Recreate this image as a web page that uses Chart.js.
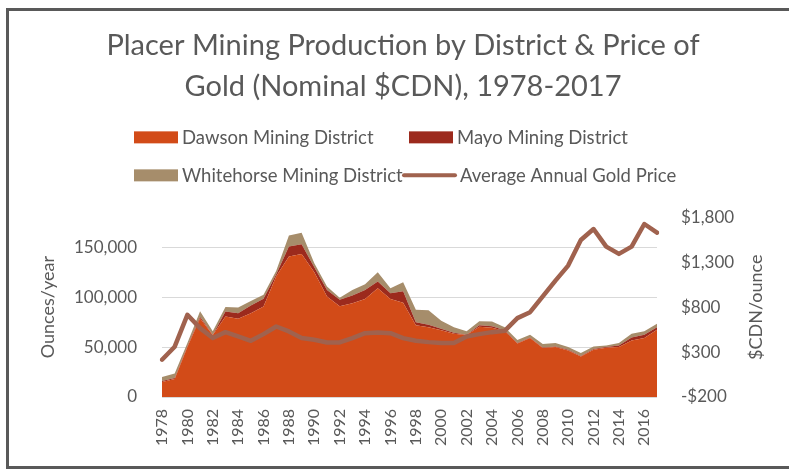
<!DOCTYPE html>
<html>
<head>
<meta charset="utf-8">
<script src="https://cdn.jsdelivr.net/npm/chart.js@4.4.0/dist/chart.umd.min.js"></script>
<style>
    body { margin: 0; background: #ffffff; overflow: hidden; }
    #moldura {
        position: absolute; left: 6px; top: 8px; width: 900px; height: 461px;
        box-sizing: border-box; border: 3px solid #595959; border-right: none;
    }
    #grafico { position: absolute; left: 0; top: 0; }
</style>
</head>
<body>
<div id="moldura"></div>
<canvas id="grafico" width="789" height="470"></canvas>
<script>
const anos = [
    "1978", "1979", "1980", "1981", "1982", "1983", "1984", "1985", "1986", "1987",
    "1988", "1989", "1990", "1991", "1992", "1993", "1994", "1995", "1996", "1997",
    "1998", "1999", "2000", "2001", "2002", "2003", "2004", "2005", "2006", "2007",
    "2008", "2009", "2010", "2011", "2012", "2013", "2014", "2015", "2016", "2017"
];

// onças por ano, por distrito
const dawson = [
    15000, 18000, 50000, 79000, 62000, 80700, 78300, 84000, 90700, 121000,
    140700, 143300, 125000, 100700, 91000, 94000, 98300, 109000, 98300, 94500,
    72000, 70000, 67000, 63500, 62000, 70500, 69500, 66200, 53500, 59000,
    49000, 50000, 46700, 40700, 47300, 49300, 50000, 56700, 59000, 67300
];
const mayo = [
    1000, 1000, 1000, 1500, 500, 5000, 5700, 7700, 7700, 2000,
    10000, 9700, 5000, 6500, 6500, 7700, 9000, 6700, 5700, 11500,
    3000, 2500, 1500, 1000, 500, 1500, 1500, 800, 500, 500,
    700, 700, 600, 500, 700, 700, 1500, 3000, 3500, 2500
];
const whitehorse = [
    4000, 4500, 3000, 5500, 3500, 4500, 5700, 4600, 4000, 3500,
    11000, 11700, 4000, 3500, 2000, 5600, 5700, 9300, 5000, 9000,
    12500, 14500, 8000, 5300, 3500, 4000, 4700, 3000, 3000, 3000,
    3300, 3300, 2700, 2800, 2700, 1700, 2500, 3600, 3500, 3500
];

// preço médio anual do ouro ($CDN/onça)
const precoOuro = [
    215, 360, 715, 567, 456, 522, 474, 426, 500, 585,
    530, 456, 437, 407, 407, 456, 511, 519, 511, 456,
    426, 411, 400, 400, 474, 500, 522, 537, 678, 744,
    920, 1096, 1263, 1548, 1670, 1474, 1393, 1474, 1726, 1630
];

// marcas dos eixos
const ticksOncas = [0, 50000, 100000, 150000];
const ticksPreco = [-200, 300, 800, 1300, 1800];

const FONTE = "Lato";
const CINZA = "#595959";

// legenda em grade 2x2 + título do eixo direito (lendo de baixo pra cima)
const legendaGrade = {
    id: "legendaGrade",
    afterDraw(chart) {
        const ctx = chart.ctx;
        const area = chart.chartArea;
        const colunas = [134, 409];
        const linhas = [area.top - 80, area.top - 42];

        ctx.save();
        ctx.font = `18.5px ${FONTE}`;
        ctx.textBaseline = "middle";

        for (let i = 0; i < chart.data.datasets.length; i++) {
            const ds = chart.data.datasets[i];
            const x = colunas[i % 2];
            const y = linhas[Math.floor(i / 2)];
            let xTexto;

            if (!ds.fill) {
                ctx.strokeStyle = ds.borderColor;
                ctx.lineWidth = 4;
                ctx.lineCap = "round";
                ctx.beginPath();
                ctx.moveTo(x - 5, y);
                ctx.lineTo(x + 46, y);
                ctx.stroke();
                xTexto = x + 51;
            } else {
                ctx.fillStyle = ds.backgroundColor;
                ctx.fillRect(x, y - 6, 44, 12);
                xTexto = x + 48;
            }
            ctx.fillStyle = CINZA;
            ctx.textAlign = "left";
            ctx.fillText(ds.label, xTexto, y + 1);
        }

        ctx.translate(756, (area.top + area.bottom) / 2);
        ctx.rotate(-Math.PI / 2);
        ctx.textAlign = "center";
        ctx.font = `18px ${FONTE}`;
        ctx.fillText("$CDN/ounce", 0, 0);
        ctx.restore();
    }
};

const ctx = document.getElementById("grafico");

new Chart(ctx, {
    type: "line",
    data: {
        labels: anos,
        datasets: [
            {
                label: "Dawson Mining District",
                data: dawson,
                yAxisID: "y",
                fill: "origin",
                backgroundColor: "#D24B18",
                borderColor: "#D24B18",
                borderWidth: 0,
                pointRadius: 0,
                order: 1
            },
            {
                label: "Mayo Mining District",
                data: mayo,
                yAxisID: "y",
                fill: "-1",
                backgroundColor: "#9C2A1D",
                borderColor: "#9C2A1D",
                borderWidth: 0,
                pointRadius: 0,
                order: 1
            },
            {
                label: "Whitehorse Mining District",
                data: whitehorse,
                yAxisID: "y",
                fill: "-1",
                backgroundColor: "#A68D6B",
                borderColor: "#A68D6B",
                borderWidth: 0,
                pointRadius: 0,
                order: 1
            },
            {
                label: "Average Annual Gold Price",
                data: precoOuro,
                yAxisID: "y1",
                fill: false,
                borderColor: "#A0624E",
                backgroundColor: "#A0624E",
                borderWidth: 4.5,
                borderJoinStyle: "round",
                borderCapStyle: "round",
                pointRadius: 0,
                tension: 0,
                order: 0
            }
        ]
    },
    plugins: [legendaGrade],
    options: {
        responsive: false,
        animation: false,
        layout: { padding: { left: 17, right: 0, top: 0, bottom: 0 } },
        plugins: {
            legend: { display: false },
            tooltip: { enabled: false },
            title: {
                display: true,
                text: [
                    "Placer Mining Production by District & Price of",
                    "Gold (Nominal $CDN), 1978-2017"
                ],
                color: CINZA,
                font: { family: FONTE, size: 29, weight: "normal", lineHeight: 1.42 },
                padding: { top: 25, bottom: 110 }
            }
        },
        scales: {
            x: {
                grid: { display: false },
                border: { display: false },
                ticks: {
                    autoSkip: false,
                    minRotation: 90,
                    maxRotation: 90,
                    padding: 4,
                    color: CINZA,
                    font: { family: FONTE, size: 16 },
                    callback: function (valor, indice) {
                        return indice % 2 == 0 ? this.getLabelForValue(valor) : "";
                    }
                },
                afterFit: (escala) => { escala.height = 73; }
            },
            y: {
                position: "left",
                stacked: true,
                min: 0,
                max: 180000,
                grid: { color: "#D9D9D9", lineWidth: 1, drawTicks: false },
                border: { display: false },
                ticks: {
                    padding: 25,
                    color: CINZA,
                    font: { family: FONTE, size: 17 },
                    callback: (valor) => valor.toLocaleString("en-US")
                },
                afterBuildTicks: (escala) => {
                    escala.ticks = ticksOncas.map(v => ({ value: v }));
                },
                title: {
                    display: true,
                    text: "Ounces/year",
                    color: CINZA,
                    font: { family: FONTE, size: 18 },
                    padding: { top: 20, bottom: 0 }
                },
                afterFit: (escala) => { escala.width = 145; }
            },
            y1: {
                position: "right",
                min: -200,
                max: 1800,
                grid: { drawOnChartArea: false, drawTicks: false },
                border: { display: false },
                ticks: {
                    padding: 24,
                    color: CINZA,
                    font: { family: FONTE, size: 17 },
                    callback: (valor) => (valor < 0 ? "-$" : "$") + Math.abs(valor).toLocaleString("en-US")
                },
                afterBuildTicks: (escala) => {
                    escala.ticks = ticksPreco.map(v => ({ value: v }));
                },
                afterFit: (escala) => { escala.width = 132; }
            }
        }
    }
});
</script>
</body>
</html>
